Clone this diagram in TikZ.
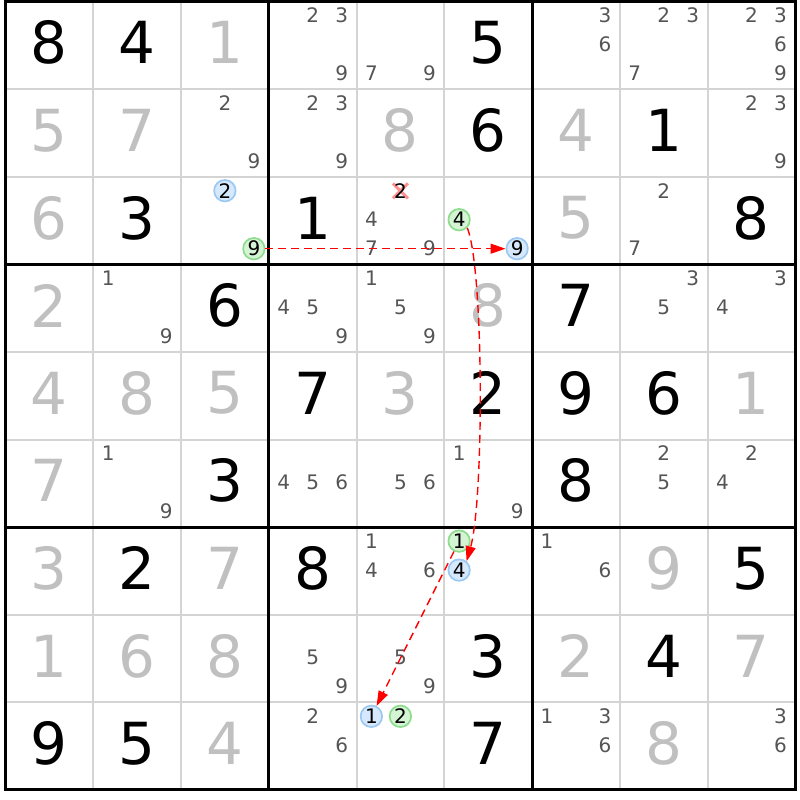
\documentclass[tikz,border=0pt]{standalone}
\usepackage{fontspec}
\setmainfont{DejaVu Sans}
\usetikzlibrary{arrows.meta}
\definecolor{gridfinecol}{HTML}{D4D4D4}
\definecolor{biggray}{HTML}{C0C0C0}
\definecolor{candgray}{HTML}{555555}
\definecolor{gfill}{HTML}{D4F4D4}
\definecolor{gline}{HTML}{8EDC8E}
\definecolor{bfill}{HTML}{D6E8FB}
\definecolor{bline}{HTML}{9CC8F4}
\definecolor{xpink}{HTML}{FF9090}
\definecolor{arrred}{HTML}{FF0000}
\tikzset{
  bigdig/.style={inner sep=0pt, font=\fontsize{58}{58}\selectfont},
  given/.style={bigdig, text=black},
  solved/.style={bigdig, text=biggray},
  cand/.style={inner sep=0pt, font=\fontsize{20}{20}\selectfont, text=candgray},
  gmark/.style={circle, draw=gline, fill=gfill, line width=1.7pt, minimum size=21.5pt, inner sep=0pt, font=\fontsize{20}{20}\selectfont, text=black},
  bmark/.style={circle, draw=bline, fill=bfill, line width=1.7pt, minimum size=21.5pt, inner sep=0pt, font=\fontsize{20}{20}\selectfont, text=black},
  crossed/.style={inner sep=0pt, font=\fontsize{20}{20}\selectfont, text=black},
  gridfine/.style={draw=gridfinecol, line width=2pt},
  gridbold/.style={draw=black, line width=3pt},
  xmark/.style={draw=xpink, line width=3pt},
  link/.style={draw=arrred, line width=1.4pt, dash pattern=on 8pt off 5pt, -{Triangle[length=15pt,width=10pt]}}
}
\newcommand\skbig[4]{%
  \pgfmathsetmacro\skx{5.5+(#3-0.5)*87.75}%
  \pgfmathsetmacro\sky{1.5+(#2-0.5)*87.6-2.5}%
  \node[#1] (v#2#3) at (\skx,\sky) {#4};}
\newcommand\skcand[4][cand]{%
  \pgfmathsetmacro\skx{5.5+(#3-0.5)*87.75+(mod(#4-1,3)-1)*29}%
  \pgfmathsetmacro\sky{1.5+(#2-0.5)*87.6+(floor((#4-1)/3)-1)*29-0.8}%
  \node[#1] (k#2#3#4) at (\skx,\sky) {#4};}
\newcommand\skcands[3]{\foreach \dd in {#3}{\skcand{#1}{#2}{\dd}}}
\begin{document}
\begin{tikzpicture}[x=1pt,y=-1pt]
\useasboundingbox (0,0) rectangle (800,800);
\fill[white] (0,0) rectangle (800,800);
% grid
\foreach \i in {1,2,4,5,7,8} {
  \draw[gridfine] ({5.5+\i*87.75},1.5) -- ({5.5+\i*87.75},789.9);
  \draw[gridfine] (5.5,{1.5+\i*87.6}) -- (795.25,{1.5+\i*87.6});
}
\foreach \i in {3,6} {
  \draw[gridbold] ({5.5+\i*87.75},1.5) -- ({5.5+\i*87.75},789.9);
  \draw[gridbold] (5.5,{1.5+\i*87.6}) -- (795.25,{1.5+\i*87.6});
}
\draw[gridbold] (5.5,1.5) rectangle (795.25,789.9);
% big digits
\skbig{given}{1}{1}{8}\skbig{given}{1}{2}{4}\skbig{solved}{1}{3}{1}\skbig{given}{1}{6}{5}
\skbig{solved}{2}{1}{5}\skbig{solved}{2}{2}{7}\skbig{solved}{2}{5}{8}\skbig{given}{2}{6}{6}\skbig{solved}{2}{7}{4}\skbig{given}{2}{8}{1}
\skbig{solved}{3}{1}{6}\skbig{given}{3}{2}{3}\skbig{given}{3}{4}{1}\skbig{solved}{3}{7}{5}\skbig{given}{3}{9}{8}
\skbig{solved}{4}{1}{2}\skbig{given}{4}{3}{6}\skbig{solved}{4}{6}{8}\skbig{given}{4}{7}{7}
\skbig{solved}{5}{1}{4}\skbig{solved}{5}{2}{8}\skbig{solved}{5}{3}{5}\skbig{given}{5}{4}{7}\skbig{solved}{5}{5}{3}\skbig{given}{5}{6}{2}\skbig{given}{5}{7}{9}\skbig{given}{5}{8}{6}\skbig{solved}{5}{9}{1}
\skbig{solved}{6}{1}{7}\skbig{given}{6}{3}{3}\skbig{given}{6}{7}{8}
\skbig{solved}{7}{1}{3}\skbig{given}{7}{2}{2}\skbig{solved}{7}{3}{7}\skbig{given}{7}{4}{8}\skbig{solved}{7}{8}{9}\skbig{given}{7}{9}{5}
\skbig{solved}{8}{1}{1}\skbig{solved}{8}{2}{6}\skbig{solved}{8}{3}{8}\skbig{given}{8}{6}{3}\skbig{solved}{8}{7}{2}\skbig{given}{8}{8}{4}\skbig{solved}{8}{9}{7}
\skbig{given}{9}{1}{9}\skbig{given}{9}{2}{5}\skbig{solved}{9}{3}{4}\skbig{given}{9}{6}{7}\skbig{solved}{9}{8}{8}
% candidates
\skcands{1}{4}{2,3,9}\skcands{1}{5}{7,9}\skcands{1}{7}{3,6}\skcands{1}{8}{2,3,7}\skcands{1}{9}{2,3,6,9}
\skcands{2}{3}{2,9}\skcands{2}{4}{2,3,9}\skcands{2}{9}{2,3,9}
\skcands{3}{5}{4,7,9}\skcands{3}{8}{2,7}
\skcands{4}{2}{1,9}\skcands{4}{4}{4,5,9}\skcands{4}{5}{1,5,9}\skcands{4}{8}{3,5}\skcands{4}{9}{3,4}
\skcands{6}{2}{1,9}\skcands{6}{4}{4,5,6}\skcands{6}{5}{5,6}\skcands{6}{6}{1,9}\skcands{6}{8}{2,5}\skcands{6}{9}{2,4}
\skcands{7}{5}{1,4,6}\skcands{7}{7}{1,6}
\skcands{8}{4}{5,9}\skcands{8}{5}{5,9}
\skcands{9}{4}{2,6}\skcands{9}{7}{1,3,6}\skcands{9}{9}{3,6}
% crossed-out candidate
\coordinate (x352) at (400.4,190.9);
\draw[xmark] ([shift={(-7.5,-7.5)}]x352) -- ([shift={(7.5,7.5)}]x352);
\draw[xmark] ([shift={(-7.5,7.5)}]x352) -- ([shift={(7.5,-7.5)}]x352);
\skcand[crossed]{3}{5}{2}
% marked candidates
\skcand[bmark]{3}{3}{2}
\skcand[gmark]{3}{3}{9}
\skcand[gmark]{3}{6}{4}
\skcand[bmark]{3}{6}{9}
\skcand[gmark]{7}{6}{1}
\skcand[bmark]{7}{6}{4}
\skcand[bmark]{9}{5}{1}
\skcand[gmark]{9}{5}{2}
% links
\draw[link] (k339) -- (k369);
\draw[link] (k364.-45) .. controls (484,270) and (484,500) .. (k764.50);
\draw[link] (k761) -- (k951);
\end{tikzpicture}
\end{document}
